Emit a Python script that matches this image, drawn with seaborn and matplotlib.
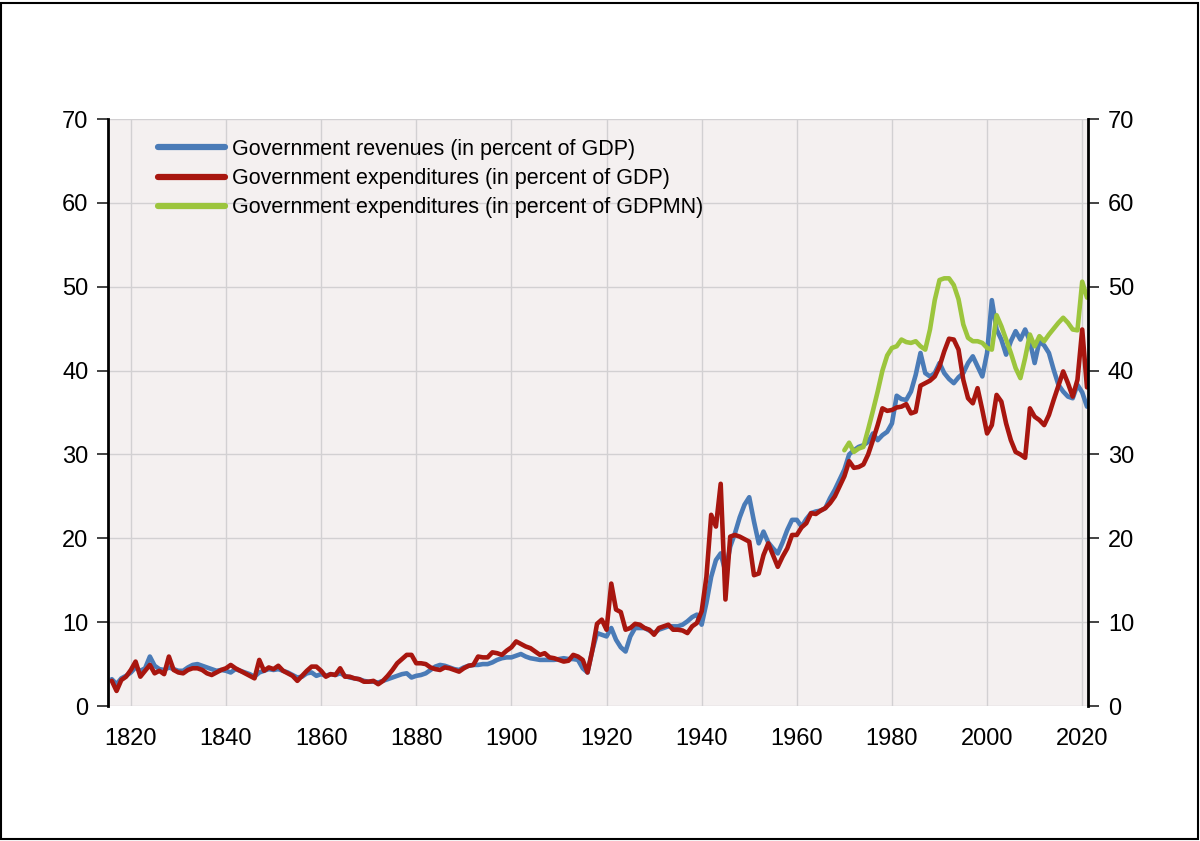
import matplotlib
matplotlib.use("Agg")
import matplotlib.pyplot as plt
from matplotlib.patches import Rectangle
from matplotlib.ticker import MultipleLocator
import seaborn as sns
import numpy as np
import pandas as pd

# values (annual, percent)
years = list(range(1816, 2022))

revenues_gdp = [
    3.2, 2.6, 3.3, 3.6, 4.0, 4.6, 4.2, 4.5, 5.9, 4.8,      # 1816-1825
    4.4, 4.3, 4.6, 4.4, 4.2, 4.2, 4.6, 4.9, 5.0, 4.8,      # 1826-1835
    4.6, 4.4, 4.2, 4.3, 4.2, 4.0, 4.4, 4.2, 4.0, 3.8,      # 1836-1845
    3.5, 4.0, 4.2, 4.4, 4.3, 4.4, 4.2, 4.0, 3.7, 3.4,      # 1846-1855
    3.5, 3.9, 4.0, 3.6, 3.8, 3.6, 3.8, 3.7, 3.9, 3.6,      # 1856-1865
    3.4, 3.3, 3.2, 3.0, 2.9, 2.9, 2.8, 3.0, 3.2, 3.4,      # 1866-1875
    3.6, 3.8, 3.9, 3.4, 3.6, 3.7, 3.9, 4.3, 4.7, 4.9,      # 1876-1885
    4.8, 4.6, 4.4, 4.3, 4.6, 4.8, 4.9, 4.9, 5.0, 5.0,      # 1886-1895
    5.2, 5.5, 5.7, 5.8, 5.8, 6.0, 6.2, 5.9, 5.7, 5.6,      # 1896-1905
    5.5, 5.5, 5.5, 5.5, 5.6, 5.7, 5.6, 5.6, 5.5, 4.5,      # 1906-1915
    4.0, 6.6, 8.7, 8.5, 8.3, 9.3, 7.9, 7.0, 6.5, 8.3,      # 1916-1925
    9.3, 9.3, 9.3, 9.0, 8.7, 9.1, 9.3, 9.5, 9.5, 9.5,      # 1926-1935
    9.7, 10.1, 10.6, 10.9, 9.7, 12.3, 15.4, 17.4, 18.2, 16.0,  # 1936-1945
    19.0, 20.6, 22.5, 24.0, 24.9, 22.0, 19.4, 20.8, 19.5, 18.8,  # 1946-1955
    18.2, 19.5, 21.0, 22.2, 22.2, 21.4, 22.3, 23.0, 23.2, 23.3,  # 1956-1965
    23.6, 24.8, 25.8, 27.0, 28.2, 30.0, 30.5, 30.9, 31.1, 31.5,  # 1966-1975
    32.5, 31.7, 32.3, 32.7, 33.7, 37.0, 36.6, 36.5, 37.5, 39.5,  # 1976-1985
    42.1, 39.7, 39.3, 39.7, 40.9, 39.7, 39.0, 38.5, 39.2, 39.7,  # 1986-1995
    40.9, 41.7, 40.5, 39.3, 42.1, 48.4, 44.9, 43.7, 41.9, 43.5,  # 1996-2005
    44.7, 43.7, 44.9, 43.5, 40.9, 43.5, 43.0, 42.1, 40.1, 38.3,  # 2006-2015
    37.5, 36.9, 36.7, 38.3, 37.4, 35.7,                          # 2016-2021
]

expenditures_gdp = [
    3.0, 1.8, 3.1, 3.5, 4.3, 5.3, 3.5, 4.2, 4.9, 3.9,      # 1816-1825
    4.2, 3.8, 5.9, 4.3, 4.0, 3.9, 4.3, 4.5, 4.5, 4.3,      # 1826-1835
    3.9, 3.7, 4.0, 4.3, 4.5, 4.9, 4.5, 4.2, 3.9, 3.6,      # 1836-1845
    3.3, 5.5, 4.2, 4.6, 4.4, 4.8, 4.2, 3.9, 3.6, 3.0,      # 1846-1855
    3.6, 4.2, 4.7, 4.7, 4.2, 3.5, 3.8, 3.7, 4.5, 3.5,      # 1856-1865
    3.5, 3.3, 3.2, 2.9, 2.9, 3.0, 2.6, 3.0, 3.6, 4.3,      # 1866-1875
    5.1, 5.6, 6.1, 6.1, 5.1, 5.1, 5.0, 4.6, 4.4, 4.3,      # 1876-1885
    4.6, 4.5, 4.3, 4.1, 4.5, 4.8, 4.9, 5.9, 5.8, 5.8,      # 1886-1895
    6.4, 6.3, 6.1, 6.6, 7.0, 7.7, 7.4, 7.1, 6.9, 6.5,      # 1896-1905
    6.1, 6.3, 5.8, 5.7, 5.5, 5.3, 5.4, 6.1, 5.9, 5.5,      # 1906-1915
    4.0, 6.6, 9.8, 10.3, 9.1, 14.6, 11.5, 11.2, 9.1, 9.3,  # 1916-1925
    9.8, 9.7, 9.3, 9.1, 8.5, 9.3, 9.5, 9.7, 9.1, 9.1,      # 1926-1935
    9.0, 8.7, 9.5, 9.9, 11.3, 15.4, 22.8, 21.4, 26.5, 12.7,  # 1936-1945
    20.2, 20.4, 20.2, 19.9, 19.6, 15.6, 15.8, 18.0, 19.4, 18.0,  # 1946-1955
    16.6, 17.8, 18.8, 20.4, 20.4, 21.3, 21.8, 23.0, 22.9, 23.3,  # 1956-1965
    23.6, 24.2, 25.0, 26.2, 27.4, 29.2, 28.4, 28.5, 28.8, 30.0,  # 1966-1975
    31.7, 33.5, 35.5, 35.2, 35.3, 35.6, 35.7, 36.0, 34.9, 35.1,  # 1976-1985
    38.2, 38.5, 38.8, 39.3, 40.5, 42.3, 43.8, 43.7, 42.5, 38.9,  # 1986-1995
    36.7, 36.1, 37.9, 35.3, 32.5, 33.5, 37.1, 36.3, 33.7, 31.7,  # 1996-2005
    30.3, 30.0, 29.6, 35.5, 34.5, 34.1, 33.5, 34.7, 36.5, 38.2,  # 2006-2015
    39.9, 38.5, 36.9, 38.9, 44.9, 38.0,                          # 2016-2021
]

years_gdpmn = list(range(1970, 2022))
expenditures_gdpmn = [
    30.5, 31.4, 30.3, 30.7, 30.9, 33.0, 35.2, 37.5, 40.0, 41.8,  # 1970-1979
    42.7, 42.9, 43.7, 43.4, 43.3, 43.5, 42.9, 42.5, 44.9, 48.4,  # 1980-1989
    50.8, 51.0, 51.0, 50.2, 48.5, 45.5, 43.9, 43.5, 43.5, 43.3,  # 1990-1999
    42.7, 42.5, 46.6, 45.3, 43.7, 42.1, 40.3, 39.1, 41.5, 44.3,  # 2000-2009
    42.9, 44.1, 43.5, 44.3, 45.0, 45.7, 46.3, 45.7, 44.9, 44.8,  # 2010-2019
    50.6, 48.7,                                                  # 2020-2021
]

labels = [
    "Government revenues (in percent of GDP)",
    "Government expenditures (in percent of GDP)",
    "Government expenditures (in percent of GDPMN)",
]
colors = ["#4a7bb7", "#a8160f", "#9cc53d"]

df = pd.concat([
    pd.DataFrame({"year": years, "value": revenues_gdp, "series": labels[0]}),
    pd.DataFrame({"year": years, "value": expenditures_gdp, "series": labels[1]}),
    pd.DataFrame({"year": years_gdpmn, "value": expenditures_gdpmn, "series": labels[2]}),
])

sns.set_style("white")
plt.rcParams["font.family"] = ["Liberation Sans", "DejaVu Sans"]
plt.rcParams["text.color"] = "black"
plt.rcParams["xtick.color"] = "black"
plt.rcParams["ytick.color"] = "black"

fig = plt.figure(figsize=(12, 8.41), dpi=100)
ax = fig.add_axes([0.09, 0.1605, 0.817, 0.698])
ax.set_facecolor("#f4f0f0")

sns.lineplot(data=df, x="year", y="value", hue="series", hue_order=labels,
             palette=colors, linewidth=3.3, ax=ax, legend=True)

ax.set_xlim(1815.2, 2021.3)
ax.set_ylim(0, 70)
ax.xaxis.set_major_locator(MultipleLocator(20))
ax.xaxis.set_minor_locator(MultipleLocator(5))
ax.yaxis.set_major_locator(MultipleLocator(10))
ax.grid(True, which="major", color="#d2d0d2", linewidth=1.0)
ax.set_axisbelow(True)

for side in ["top", "bottom"]:
    ax.spines[side].set_visible(False)
for side in ["left", "right"]:
    ax.spines[side].set_color("black")
    ax.spines[side].set_linewidth(2.0)

ax.tick_params(axis="y", which="major", direction="out", length=8, width=1.2,
               left=True, right=True, labelleft=True, labelright=True,
               labelsize=17, pad=6, color="#222222", labelcolor="black")
ax.tick_params(axis="x", which="major", direction="out", length=10, width=1.4,
               labelsize=17, pad=6, color="#222222", labelcolor="black")
ax.tick_params(axis="x", which="minor", direction="out", length=6, width=1.2,
               color="#222222")
ax.set_xlabel("")
ax.set_ylabel("")

ax.legend(loc="upper left", bbox_to_anchor=(0.051, 0.966), frameon=False,
          fontsize=15.5, handlelength=3.1, handletextpad=0.35,
          labelspacing=0.38, borderaxespad=0, borderpad=0)
for line in ax.get_legend().get_lines():
    line.set_linewidth(4.5)

fig.patches.append(Rectangle((0.001, 0.002), 0.997, 0.995, transform=fig.transFigure,
                             fill=False, edgecolor="black", linewidth=1.5))

fig.savefig("out.png", dpi=100)
